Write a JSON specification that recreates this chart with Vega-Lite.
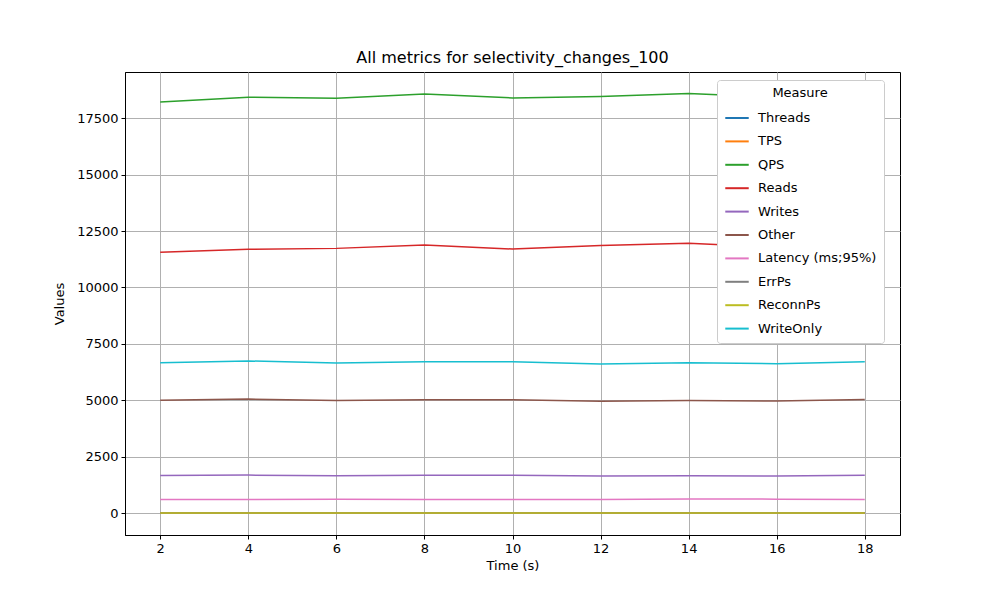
{
  "$schema": "https://vega.github.io/schema/vega-lite/v6.json",
  "autosize": "none",
  "padding": {"left": 125, "top": 72, "right": 100, "bottom": 65},
  "width": 775,
  "height": 463,
  "background": "white",
  "title": {"text": "All metrics for selectivity_changes_100", "fontSize": 16, "fontWeight": "normal", "font": "DejaVu Sans", "color": "black", "offset": 6},
  "data": {"values": [
    {"t":2,"m":"Threads","v":8},{"t":4,"m":"Threads","v":8},{"t":6,"m":"Threads","v":8},{"t":8,"m":"Threads","v":8},{"t":10,"m":"Threads","v":8},{"t":12,"m":"Threads","v":8},{"t":14,"m":"Threads","v":8},{"t":16,"m":"Threads","v":8},{"t":18,"m":"Threads","v":8},
    {"t":2,"m":"TPS","v":2},{"t":4,"m":"TPS","v":2},{"t":6,"m":"TPS","v":2},{"t":8,"m":"TPS","v":2},{"t":10,"m":"TPS","v":2},{"t":12,"m":"TPS","v":2},{"t":14,"m":"TPS","v":2},{"t":16,"m":"TPS","v":2},{"t":18,"m":"TPS","v":2},
    {"t":2,"m":"QPS","v":18220},{"t":4,"m":"QPS","v":18430},{"t":6,"m":"QPS","v":18380},{"t":8,"m":"QPS","v":18570},{"t":10,"m":"QPS","v":18400},{"t":12,"m":"QPS","v":18460},{"t":14,"m":"QPS","v":18600},{"t":16,"m":"QPS","v":18420},{"t":18,"m":"QPS","v":18520},
    {"t":2,"m":"Reads","v":11560},{"t":4,"m":"Reads","v":11690},{"t":6,"m":"Reads","v":11730},{"t":8,"m":"Reads","v":11880},{"t":10,"m":"Reads","v":11700},{"t":12,"m":"Reads","v":11860},{"t":14,"m":"Reads","v":11960},{"t":16,"m":"Reads","v":11780},{"t":18,"m":"Reads","v":11830},
    {"t":2,"m":"Writes","v":1660},{"t":4,"m":"Writes","v":1680},{"t":6,"m":"Writes","v":1650},{"t":8,"m":"Writes","v":1670},{"t":10,"m":"Writes","v":1670},{"t":12,"m":"Writes","v":1640},{"t":14,"m":"Writes","v":1650},{"t":16,"m":"Writes","v":1640},{"t":18,"m":"Writes","v":1670},
    {"t":2,"m":"Other","v":5000},{"t":4,"m":"Other","v":5050},{"t":6,"m":"Other","v":4990},{"t":8,"m":"Other","v":5020},{"t":10,"m":"Other","v":5020},{"t":12,"m":"Other","v":4950},{"t":14,"m":"Other","v":4990},{"t":16,"m":"Other","v":4960},{"t":18,"m":"Other","v":5030},
    {"t":2,"m":"Latency (ms;95%)","v":600},{"t":4,"m":"Latency (ms;95%)","v":600},{"t":6,"m":"Latency (ms;95%)","v":615},{"t":8,"m":"Latency (ms;95%)","v":600},{"t":10,"m":"Latency (ms;95%)","v":600},{"t":12,"m":"Latency (ms;95%)","v":600},{"t":14,"m":"Latency (ms;95%)","v":620},{"t":16,"m":"Latency (ms;95%)","v":615},{"t":18,"m":"Latency (ms;95%)","v":600},
    {"t":2,"m":"ErrPs","v":0},{"t":4,"m":"ErrPs","v":0},{"t":6,"m":"ErrPs","v":0},{"t":8,"m":"ErrPs","v":0},{"t":10,"m":"ErrPs","v":0},{"t":12,"m":"ErrPs","v":0},{"t":14,"m":"ErrPs","v":0},{"t":16,"m":"ErrPs","v":0},{"t":18,"m":"ErrPs","v":0},
    {"t":2,"m":"ReconnPs","v":0},{"t":4,"m":"ReconnPs","v":0},{"t":6,"m":"ReconnPs","v":0},{"t":8,"m":"ReconnPs","v":0},{"t":10,"m":"ReconnPs","v":0},{"t":12,"m":"ReconnPs","v":0},{"t":14,"m":"ReconnPs","v":0},{"t":16,"m":"ReconnPs","v":0},{"t":18,"m":"ReconnPs","v":0},
    {"t":2,"m":"WriteOnly","v":6660},{"t":4,"m":"WriteOnly","v":6740},{"t":6,"m":"WriteOnly","v":6650},{"t":8,"m":"WriteOnly","v":6700},{"t":10,"m":"WriteOnly","v":6700},{"t":12,"m":"WriteOnly","v":6600},{"t":14,"m":"WriteOnly","v":6660},{"t":16,"m":"WriteOnly","v":6620},{"t":18,"m":"WriteOnly","v":6710}
  ]},
  "mark": {"type": "line", "strokeWidth": 1.5, "clip": true},
  "encoding": {
    "x": {"field": "t", "type": "quantitative", "title": "Time (s)",
      "scale": {"domain": [1.2, 18.8], "nice": false, "zero": false},
      "axis": {"values": [2,4,6,8,10,12,14,16,18], "titlePadding": 4}},
    "y": {"field": "v", "type": "quantitative", "title": "Values",
      "scale": {"domain": [-975, 19548], "nice": false, "zero": false},
      "axis": {"values": [0,2500,5000,7500,10000,12500,15000,17500], "format": "d", "titlePadding": 10}},
    "color": {"field": "m", "type": "nominal",
      "scale": {"domain": ["Threads","TPS","QPS","Reads","Writes","Other","Latency (ms;95%)","ErrPs","ReconnPs","WriteOnly"],
        "range": ["#1f77b4","#ff7f0e","#2ca02c","#d62728","#9467bd","#8c564b","#e377c2","#7f7f7f","#bcbd22","#17becf"]},
      "legend": {"title": "Measure", "orient": "none", "legendX": 592, "legendY": 8,
        "titleAnchor": "middle", "titleFontWeight": "normal", "titleFontSize": 13, "titleColor": "black", "titleFont": "DejaVu Sans",
        "labelFontSize": 13, "labelFont": "DejaVu Sans", "labelColor": "black", "labelOffset": 8,
        "symbolType": "stroke", "symbolStrokeWidth": 2, "symbolSize": 550,
        "rowPadding": 3.4, "padding": 7, "fillColor": "white", "strokeColor": "#cccccc", "cornerRadius": 3}}
  },
  "config": {
    "font": "DejaVu Sans",
    "view": {"stroke": "black", "strokeWidth": 1},
    "axis": {"labelFontSize": 13, "titleFontSize": 13, "titleFontWeight": "normal", "labelColor": "black", "titleColor": "black",
      "gridColor": "#b0b0b0", "gridWidth": 1, "tickColor": "black", "domainColor": "black", "tickSize": 4, "labelPadding": 3}
  }
}
